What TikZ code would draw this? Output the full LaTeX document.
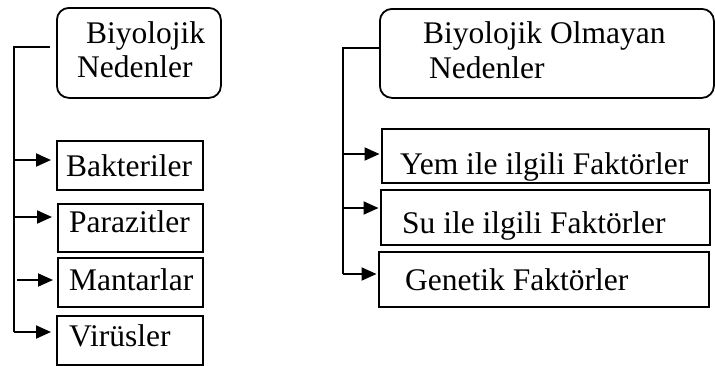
\documentclass[tikz,border=0pt]{standalone}
\usepackage{fontspec}
\setmainfont{Liberation Serif}
\usetikzlibrary{arrows.meta}
\begin{document}
\begin{tikzpicture}[x=1pt,y=-1pt,
  headbox/.style={draw, line width=1.8pt, rounded corners=12pt, inner sep=0pt, anchor=north west},
  itembox/.style={draw, line width=1.9pt, inner sep=0pt, anchor=north west},
  txt/.style={anchor=base west, inner sep=0pt, font=\fontsize{31.5}{36}\selectfont},
  trunk/.style={line width=1.2pt},
  arr/.style={line width=2pt, -{Triangle[length=15pt,width=13pt]}}]
\useasboundingbox (0,0) rectangle (715,365);
% ---------- left group ----------
\node[headbox, minimum width=164pt, minimum height=90pt] (lh) at (56,7) {};
\node[itembox, minimum width=146pt, minimum height=49pt] (bak) at (56,140) {};
\node[itembox, minimum width=145pt, minimum height=48pt] (par) at (57,203) {};
\node[itembox, minimum width=145pt, minimum height=49pt] (man) at (57,257) {};
\node[itembox, minimum width=146pt, minimum height=49pt] (vir) at (56,315) {};
\node[txt] (lh1) at (86,43.3) {Biyolojik};
\node[txt] (lh2) at (77,77.7) {Nedenler};
\node[txt] (bakt) at (66,176) {Bakteriler};
\node[txt] (part) at (69,232.7) {Parazitler};
\node[txt] (mant) at (69,290) {Mantarlar};
\node[txt] (virt) at (69,346.7) {Virüsler};
\coordinate (lhs) at (50,47);
\coordinate (lt0) at (14,47);
\coordinate (lt1) at (14,160);
\coordinate (lt2) at (14,217);
\coordinate (lt3) at (17,280);
\coordinate (lt4) at (14,332);
\draw[trunk] (lhs) -- (lt0) -- (lt4);
\draw[arr, shorten >=5pt] (lt1) -- (lt1 -| bak.west);
\draw[arr, shorten >=5pt] (lt2) -- (lt2 -| par.west);
\draw[arr, shorten >=4pt] (lt3) -- (lt3 -| man.west);
\draw[arr, shorten >=5pt] (lt4) -- (lt4 -| vir.west);
% ---------- right group ----------
\node[headbox, minimum width=334pt, minimum height=89pt] (rh) at (379,8) {};
\node[itembox, minimum width=327pt, minimum height=54pt] (yem) at (381,128) {};
\node[itembox, minimum width=329pt, minimum height=55pt] (su) at (380,189) {};
\node[itembox, minimum width=330pt, minimum height=55pt] (gen) at (378,251) {};
\node[txt] (rh1) at (423,43) {Biyolojik Olmayan};
\node[txt] (rh2) at (429,78) {Nedenler};
\node[txt] (yemt) at (400,174) {Yem ile ilgili Faktörler};
\node[txt] (sut) at (402,233.3) {Su ile ilgili Faktörler};
\node[txt] (gent) at (405,290) {Genetik Faktörler};
\coordinate (rt0) at (343,48);
\coordinate (rt1) at (343,154);
\coordinate (rt2) at (343,208);
\coordinate (rt3) at (343,274);
\draw[trunk] (rt0 -| rh.west) -- (rt0) -- (rt3);
\draw[arr, shorten >=1.5pt] (rt1) -- (rt1 -| yem.west);
\draw[arr, shorten >=1.5pt] (rt2) -- (rt2 -| su.west);
\draw[arr, shorten >=1.5pt] (rt3) -- (rt3 -| gen.west);
\end{tikzpicture}
\end{document}
